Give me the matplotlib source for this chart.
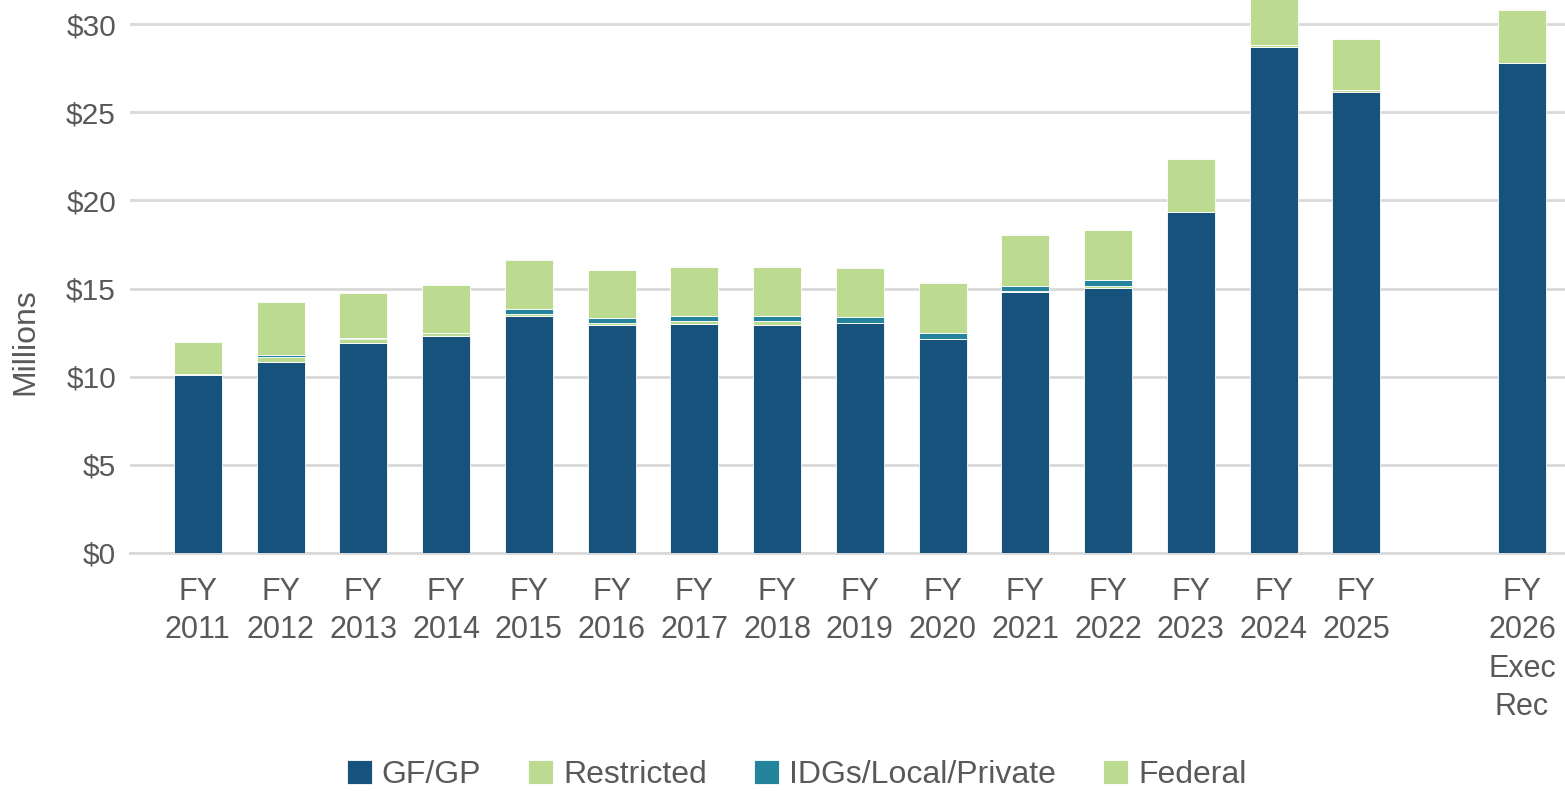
import numpy as np
import matplotlib.pyplot as plt

# fiscal years and funding sources ($ millions)
years = ['FY\n2011', 'FY\n2012', 'FY\n2013', 'FY\n2014', 'FY\n2015', 'FY\n2016',
         'FY\n2017', 'FY\n2018', 'FY\n2019', 'FY\n2020', 'FY\n2021', 'FY\n2022',
         'FY\n2023', 'FY\n2024', 'FY\n2025', 'FY\n2026\nExec\nRec']
slots = [0, 1, 2, 3, 4, 5, 6, 7, 8, 9, 10, 11, 12, 13, 14, 16]

gfgp = [10.10, 10.83, 11.93, 12.31, 13.42, 12.91, 13.01, 12.95, 13.03, 12.14,
        14.78, 15.05, 19.34, 28.70, 26.15, 27.79]
restricted = [0.03, 0.27, 0.19, 0.15, 0.15, 0.15, 0.15, 0.19, 0.02, 0.02,
              0.06, 0.11, 0.02, 0.10, 0.11, 0.02]
idgs = [0.01, 0.11, 0.05, 0.03, 0.27, 0.27, 0.28, 0.28, 0.34, 0.34,
        0.28, 0.30, 0.01, 0.01, 0.01, 0.01]
federal = [1.83, 3.02, 2.59, 2.69, 2.78, 2.72, 2.80, 2.82, 2.76, 2.80,
           2.90, 2.86, 2.98, 3.20, 2.88, 2.98]

c_gf = '#16527C'
c_green = '#BCDB91'
c_teal = '#24849C'
txt = '#595959'

plt.rcParams['font.family'] = ['Liberation Sans', 'DejaVu Sans']

fig = plt.figure(figsize=(15.65, 7.91), dpi=100)
ax = fig.add_axes([0.083, 0.301, 0.917, 0.699])

x = np.array(slots)
w = 0.58
gfgp = np.array(gfgp)
restricted = np.array(restricted)
idgs = np.array(idgs)
federal = np.array(federal)

ax.bar(x, gfgp, w, color=c_gf, edgecolor='white', linewidth=0.6, label='GF/GP', zorder=3)
ax.bar(x, restricted, w, bottom=gfgp, color=c_green, edgecolor='white', linewidth=0.6,
       label='Restricted', zorder=3)
ax.bar(x, idgs, w, bottom=gfgp + restricted, color=c_teal, edgecolor='white', linewidth=0.6,
       label='IDGs/Local/Private', zorder=3)
ax.bar(x, federal, w, bottom=gfgp + restricted + idgs, color=c_green, edgecolor='white',
       linewidth=0.6, label='Federal', zorder=3)

ax.set_xlim(-0.82, 16.52)
ax.set_ylim(0, 31.37)
ax.set_yticks(np.arange(0, 31, 5))
ax.set_yticklabels([f'${v}' for v in range(0, 31, 5)], size=21.5, color=txt)
ax.set_xticks(x)
ax.set_xticklabels(years, size=22, color=txt, linespacing=1.37)
ax.tick_params(axis='y', length=0, pad=10)
ax.tick_params(axis='x', length=0, pad=17)
ax.grid(axis='y', color='#D9D9D9', linewidth=2, zorder=0)
for s in ['top', 'right', 'left']:
    ax.spines[s].set_visible(False)
ax.spines['bottom'].set_color('#D9D9D9')
ax.spines['bottom'].set_linewidth(2)
ax.set_ylabel('Millions', size=23, color=txt)
ax.yaxis.set_label_coords(-0.0627, 0.382)

leg = fig.legend(loc='center', bbox_to_anchor=(0.509, 0.02), ncol=4, frameon=False,
                 fontsize=23, handlelength=0.78, handleheight=0.78, columnspacing=1.47,
                 handletextpad=0.32)
for t in leg.get_texts():
    t.set_color(txt)

fig.savefig('out.png', dpi=100)
